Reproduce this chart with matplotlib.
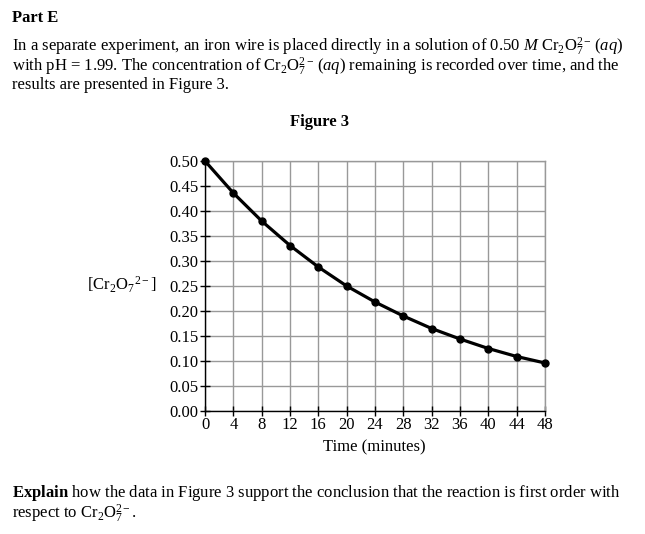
import matplotlib

matplotlib.use("Agg")
import matplotlib.pyplot as plt
from matplotlib.ticker import FormatStrFormatter

plt.rcParams["font.family"] = ["Liberation Serif", "DejaVu Serif"]
plt.rcParams["mathtext.fontset"] = "custom"
plt.rcParams["mathtext.rm"] = "Liberation Serif"
plt.rcParams["mathtext.it"] = "Liberation Serif:italic"
plt.rcParams["mathtext.bf"] = "Liberation Serif:bold"

# Data
time_min = [0, 4, 8, 12, 16, 20, 24, 28, 32, 36, 40, 44, 48]
conc = [0.500, 0.436, 0.380, 0.331, 0.288, 0.250, 0.218, 0.190,
        0.165, 0.144, 0.125, 0.109, 0.096]
x_ticks = list(range(0, 49, 4))
y_ticks = [0.00, 0.05, 0.10, 0.15, 0.20, 0.25, 0.30, 0.35, 0.40, 0.45, 0.50]

W, H = 645, 534
fig = plt.figure(figsize=(W / 100, H / 100), dpi=100)


def px(x, y):
    return x / W, 1 - y / H


ion = r"Cr$_2$O$_7^{2-}$"
fs = 12

fig.text(*px(12, 18), "Part E", fontsize=fs, fontweight="bold", va="center")
fig.text(*px(12, 47),
         "In a separate experiment, an iron wire is placed directly in a solution of 0.50 $M$ "
         + ion + r"$\,(aq)$", fontsize=fs, va="center")
fig.text(*px(12, 67),
         "with pH = 1.99. The concentration of " + ion
         + r"$\,(aq)$ remaining is recorded over time, and the", fontsize=fs, va="center")
fig.text(*px(12, 85), "results are presented in Figure 3.", fontsize=fs, va="center")

fig.text(*px(320, 122), "Figure 3", fontsize=fs, fontweight="bold", va="center", ha="center")

ax = fig.add_axes([205 / W, (H - 411) / H, 340 / W, 250 / H])
ax.plot(time_min, conc, color="black", lw=2.3, marker="o", ms=5, zorder=3, clip_on=False)
ax.set_xlim(0, 48)
ax.set_ylim(0, 0.5)
ax.set_xticks(x_ticks)
ax.set_yticks(y_ticks)
ax.yaxis.set_major_formatter(FormatStrFormatter("%.2f"))
ax.grid(True, color="#999999", lw=1.0)
ax.set_axisbelow(True)
for side in ("top", "right"):
    ax.spines[side].set_color("#999999")
    ax.spines[side].set_linewidth(1.0)
for side in ("left", "bottom"):
    ax.spines[side].set_color("black")
    ax.spines[side].set_linewidth(1.0)
ax.tick_params(direction="inout", length=7, width=1, labelsize=fs, pad=1)

fig.text(*px(374, 447), "Time (minutes)", fontsize=fs, va="center", ha="center")
fig.text(*px(122, 285), r"[Cr$_2$O$_7$$^{2-}$]", fontsize=fs, va="center", ha="center")

fig.text(*px(12, 493),
         r"$\mathbf{Explain}$ how the data in Figure 3 support the conclusion that the reaction is first order with",
         fontsize=fs, va="center")
fig.text(*px(12, 514), "respect to " + ion + ".", fontsize=fs, va="center")

fig.savefig("out.png", dpi=100)
